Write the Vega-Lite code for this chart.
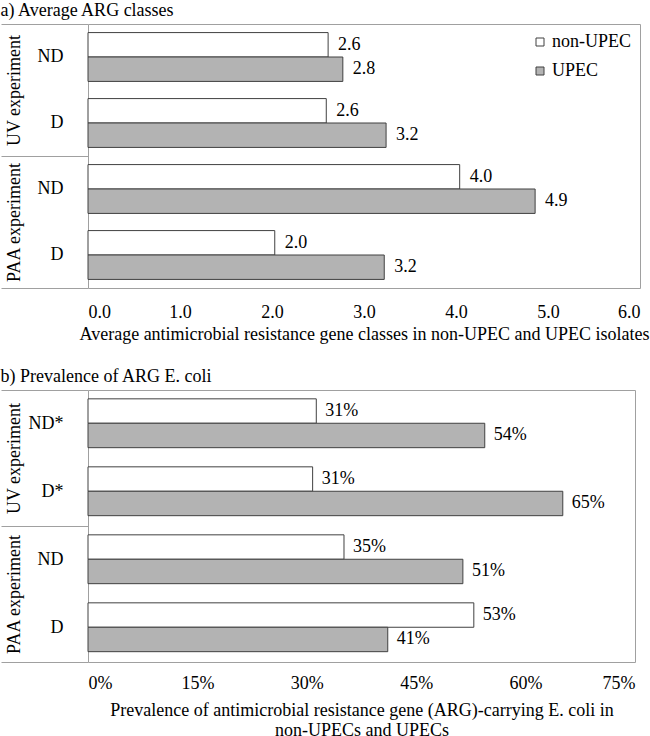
{
  "$schema": "https://vega.github.io/schema/vega-lite/v6.json",
  "padding": {"left": 0, "top": 1, "right": 5, "bottom": 0},
  "spacing": 23,
  "config": {
    "font": "Liberation Serif",
    "view": {"stroke": "#a0a0a0", "strokeWidth": 1},
    "axis": {"grid": false, "labelFont": "Liberation Serif", "titleFont": "Liberation Serif", "labelFontSize": 18, "titleFontSize": 18, "titleFontWeight": "normal", "labelColor": "#000000", "titleColor": "#000000"},
    "legend": {"labelFont": "Liberation Serif"},
    "title": {"font": "Liberation Serif", "fontSize": 18, "fontWeight": "normal", "color": "#000000", "anchor": "start", "frame": "bounds", "offset": 4}
  },
  "resolve": {"scale": {"color": "independent"}, "legend": {"color": "independent"}},
  "vconcat": [
    {
      "title": "a) Average ARG classes",
      "width": 552,
      "height": 264,
      "data": {"values": [
        {"exp": "UV experiment", "row": "UV|ND", "series": "non-UPEC", "value": 2.61},
        {"exp": "UV experiment", "row": "UV|ND", "series": "UPEC", "value": 2.77},
        {"exp": "UV experiment", "row": "UV|D", "series": "non-UPEC", "value": 2.59},
        {"exp": "UV experiment", "row": "UV|D", "series": "UPEC", "value": 3.24},
        {"exp": "PAA experiment", "row": "PAA|ND", "series": "non-UPEC", "value": 4.04},
        {"exp": "PAA experiment", "row": "PAA|ND", "series": "UPEC", "value": 4.86},
        {"exp": "PAA experiment", "row": "PAA|D", "series": "non-UPEC", "value": 2.03},
        {"exp": "PAA experiment", "row": "PAA|D", "series": "UPEC", "value": 3.22}
      ]},
      "layer": [
        {
          "encoding": {
            "y": {"field": "row", "type": "nominal", "sort": null, "scale": {"type": "band", "paddingInner": 0.26, "paddingOuter": 0.13},
                  "axis": {"title": null, "ticks": false, "domain": false, "labelPadding": 25, "labelExpr": "split(datum.label, '|')[1]"}},
            "yOffset": {"field": "series", "type": "nominal", "sort": ["non-UPEC", "UPEC"], "scale": {"paddingInner": 0, "paddingOuter": 0}},
            "x": {"field": "value", "type": "quantitative", "scale": {"domain": [0, 6]},
                  "axis": {"values": [0, 1, 2, 3, 4, 5, 6], "format": ".1f", "ticks": false, "domain": false, "labelPadding": 15, "titlePadding": 4,
                           "title": "Average antimicrobial resistance gene classes in non-UPEC and UPEC isolates"}}
          },
          "layer": [
            {"mark": {"type": "bar", "stroke": "#404040", "strokeWidth": 1},
             "encoding": {"color": {"field": "series", "type": "nominal", "scale": {"domain": ["non-UPEC", "UPEC"], "range": ["#ffffff", "#b3b3b3"]},
                "legend": {"orient": "none", "legendX": 443, "legendY": 9, "title": null, "symbolType": "square", "symbolSize": 64, "symbolStrokeColor": "#404040", "symbolStrokeWidth": 1, "labelFont": "Liberation Serif", "labelFontSize": 18, "rowPadding": 11, "labelOffset": 3}}}},
            {"mark": {"type": "text", "align": "left", "dx": 10, "font": "Liberation Serif", "fontSize": 18, "color": "#000000"},
             "encoding": {"text": {"field": "value", "type": "quantitative", "format": ".1f"}}}
          ]
        },
        {
          "mark": {"type": "text", "text": ""},
          "encoding": {
            "y": {"field": "exp", "type": "nominal", "sort": ["UV experiment", "PAA experiment"], "scale": {"type": "band", "paddingInner": 0, "paddingOuter": 0},
                  "axis": {"title": null, "orient": "left", "tickBand": "extent", "tickSize": 87, "tickColor": "#a0a0a0", "domain": false, "labelAngle": -90, "labelAlign": "center", "labelBaseline": "middle", "labelPadding": -13}}
          }
        }
      ],
      "resolve": {"scale": {"y": "independent"}}
    },
    {
      "title": "b) Prevalence of ARG E. coli",
      "width": 547,
      "height": 272,
      "data": {"values": [
        {"exp": "UV experiment", "row": "UV|ND*", "series": "non-UPEC", "value": 0.313},
        {"exp": "UV experiment", "row": "UV|ND*", "series": "UPEC", "value": 0.544},
        {"exp": "UV experiment", "row": "UV|D*", "series": "non-UPEC", "value": 0.308},
        {"exp": "UV experiment", "row": "UV|D*", "series": "UPEC", "value": 0.651},
        {"exp": "PAA experiment", "row": "PAA|ND", "series": "non-UPEC", "value": 0.351},
        {"exp": "PAA experiment", "row": "PAA|ND", "series": "UPEC", "value": 0.514},
        {"exp": "PAA experiment", "row": "PAA|D", "series": "non-UPEC", "value": 0.529},
        {"exp": "PAA experiment", "row": "PAA|D", "series": "UPEC", "value": 0.411}
      ]},
      "layer": [
        {
          "encoding": {
            "y": {"field": "row", "type": "nominal", "sort": null, "scale": {"type": "band", "paddingInner": 0.26, "paddingOuter": 0.13},
                  "axis": {"title": null, "ticks": false, "domain": false, "labelPadding": 25, "labelExpr": "split(datum.label, '|')[1]"}},
            "yOffset": {"field": "series", "type": "nominal", "sort": ["non-UPEC", "UPEC"], "scale": {"paddingInner": 0, "paddingOuter": 0}},
            "x": {"field": "value", "type": "quantitative", "scale": {"domain": [0, 0.75]},
                  "axis": {"values": [0, 0.15, 0.3, 0.45, 0.6, 0.75], "format": ".0%", "ticks": false, "domain": false, "labelPadding": 12, "titlePadding": 9,
                           "title": ["Prevalence of antimicrobial resistance gene (ARG)-carrying E. coli in", "non-UPECs and UPECs"]}}
          },
          "layer": [
            {"mark": {"type": "bar", "stroke": "#404040", "strokeWidth": 1},
             "encoding": {"color": {"field": "series", "type": "nominal", "scale": {"domain": ["non-UPEC", "UPEC"], "range": ["#ffffff", "#b3b3b3"]}, "legend": null}}},
            {"mark": {"type": "text", "align": "left", "dx": 9, "font": "Liberation Serif", "fontSize": 18, "color": "#000000"},
             "encoding": {"text": {"field": "value", "type": "quantitative", "format": ".0%"}}}
          ]
        },
        {
          "mark": {"type": "text", "text": ""},
          "encoding": {
            "y": {"field": "exp", "type": "nominal", "sort": ["UV experiment", "PAA experiment"], "scale": {"type": "band", "paddingInner": 0, "paddingOuter": 0},
                  "axis": {"title": null, "orient": "left", "tickBand": "extent", "tickSize": 87, "tickColor": "#a0a0a0", "domain": false, "labelAngle": -90, "labelAlign": "center", "labelBaseline": "middle", "labelPadding": -13}}
          }
        }
      ],
      "resolve": {"scale": {"y": "independent"}}
    }
  ]
}
